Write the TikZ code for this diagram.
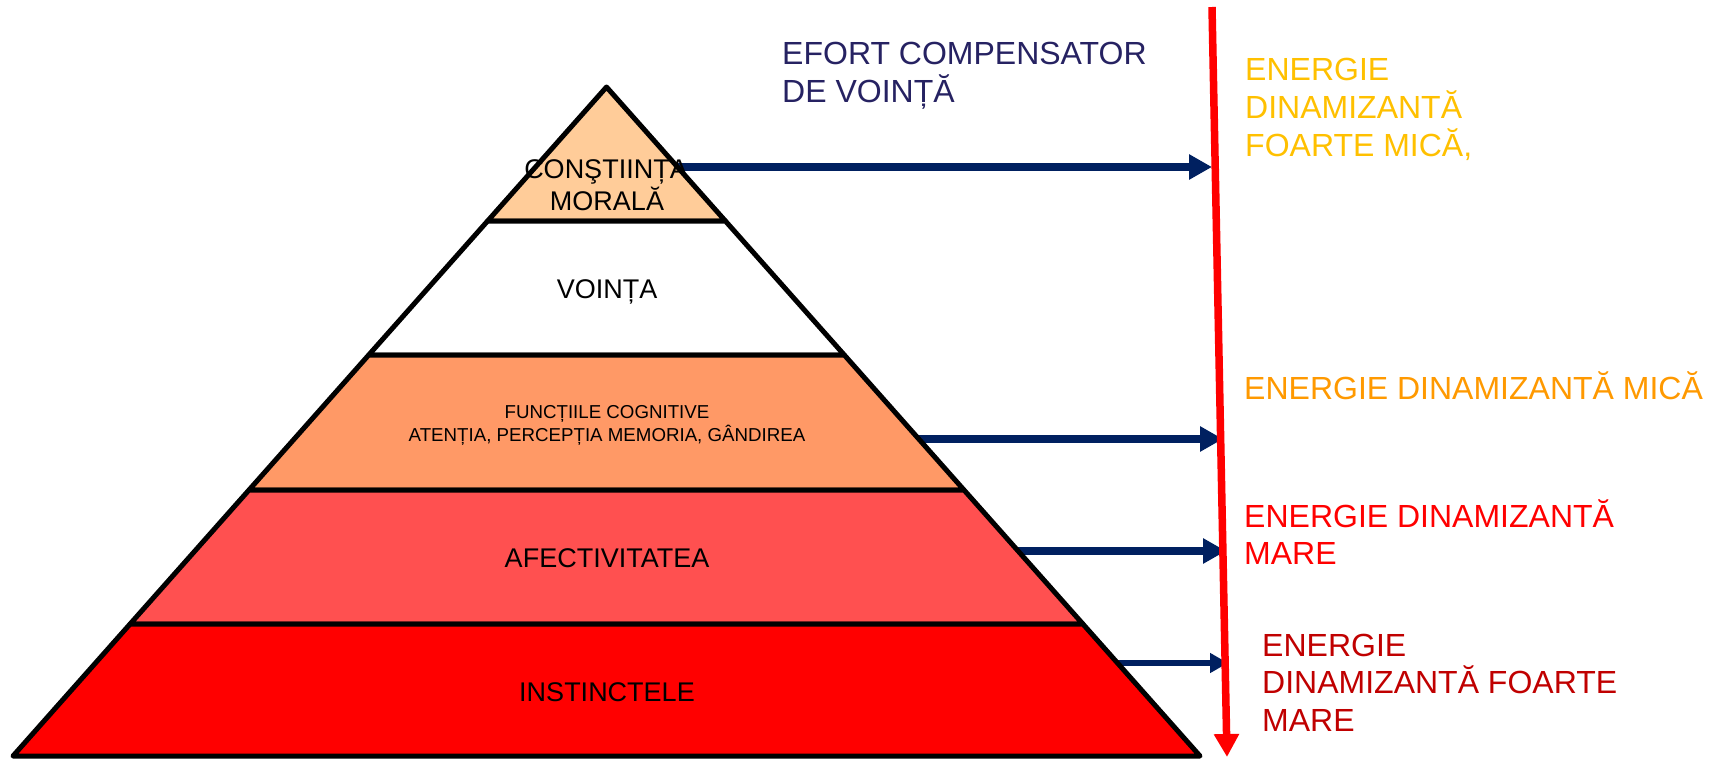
\documentclass[tikz,border=0pt]{standalone}
\usepackage{fontspec}
\setmainfont{Liberation Sans}
\usetikzlibrary{arrows.meta}
\definecolor{peach}{HTML}{FFCC99}
\definecolor{cogn}{HTML}{FF9966}
\definecolor{affect}{HTML}{FF5050}
\definecolor{instinct}{HTML}{FF0000}
\definecolor{navy}{HTML}{002060}
\definecolor{efort}{HTML}{262262}
\definecolor{yell}{HTML}{FFC000}
\definecolor{orng}{HTML}{FF9900}
\definecolor{redtxt}{HTML}{FF0000}
\definecolor{darkred}{HTML}{C00000}
\begin{document}
\begin{tikzpicture}[x=1pt,y=-1pt,
  tier/.style={draw=black,line width=5pt,line join=round},
  lbl/.style={inner sep=0pt,anchor=base,font=\fontsize{27}{31}\selectfont},
  small/.style={inner sep=0pt,anchor=base,font=\fontsize{18.7}{22}\selectfont},
  side/.style={inner sep=0pt,anchor=base west,font=\fontsize{32}{37}\selectfont},
  bigarrow/.style={draw=navy,line width=8.5pt,-{Triangle[length=23pt,width=24pt]}},
  thinarrow/.style={draw=navy,line width=5.5pt,-{Triangle[length=18pt,width=19pt]}},
  redaxis/.style={draw=red,line width=7.5pt,-{Triangle[length=23pt,width=24pt]}}]
\useasboundingbox (0,0) rectangle (1727,758);

% coordinates
\coordinate (rtop) at (1212,7);
\coordinate (rbot) at (1227,757);
\coordinate (a1s) at (675,167);   \coordinate (a1e) at (1212,167);
\coordinate (a2s) at (917,439);   \coordinate (a2e) at (1223,439);
\coordinate (a3s) at (1016,551);  \coordinate (a3e) at (1226,551);
\coordinate (a4s) at (1115,663);  \coordinate (a4e) at (1228,663);

% arrows
\draw[bigarrow] (a1s) -- (a1e);
\draw[bigarrow] (a2s) -- (a2e);
\draw[bigarrow] (a3s) -- (a3e);
\draw[thinarrow] (a4s) -- (a4e);

% pyramid tiers
\filldraw[tier,fill=peach] (606.5,87) -- (725.4,221) -- (487.6,221) -- cycle;
\filldraw[tier,fill=white] (487.6,221) -- (725.4,221) -- (844.3,355) -- (368.7,355) -- cycle;
\filldraw[tier,fill=cogn] (368.7,355) -- (844.3,355) -- (964.0,490) -- (249.0,490) -- cycle;
\filldraw[tier,fill=affect] (249.0,490) -- (964.0,490) -- (1082.9,624) -- (130.1,624) -- cycle;
\filldraw[tier,fill=instinct] (130.1,624) -- (1082.9,624) -- (1200,756) -- (13,756) -- cycle;

% red axis
\draw[redaxis] (rtop) -- (rbot);

% pyramid labels
\node[lbl] (c1) at (606,178) {CONŞTIINȚA};
\node[lbl] (c2) at (607,210) {MORALĂ};
\node[lbl] (v) at (607,298) {VOINȚA};
\node[small] (f1) at (607,418) {FUNCȚIILE COGNITIVE};
\node[small] (f2) at (607,441) {ATENȚIA, PERCEPȚIA MEMORIA, GÂNDIREA};
\node[lbl] (af) at (607,567) {AFECTIVITATEA};
\node[lbl] (in) at (607,701) {INSTINCTELE};

% side texts
\node[side,text=efort] (e1) at (782,64) {EFORT COMPENSATOR};
\node[side,text=efort] (e2) at (782,102) {DE VOINȚĂ};
\node[side,text=yell] (y1) at (1245,80) {ENERGIE};
\node[side,text=yell] (y2) at (1245,118) {DINAMIZANTĂ};
\node[side,text=yell] (y3) at (1245,156) {FOARTE MICĂ,};
\node[side,text=orng] (o1) at (1244,399) {ENERGIE DINAMIZANTĂ MICĂ};
\node[side,text=redtxt] (r1) at (1244,527) {ENERGIE DINAMIZANTĂ};
\node[side,text=redtxt] (r2) at (1244,564) {MARE};
\node[side,text=darkred] (d1) at (1262,656) {ENERGIE};
\node[side,text=darkred] (d2) at (1262,693) {DINAMIZANTĂ FOARTE};
\node[side,text=darkred] (d3) at (1262,731) {MARE};
\end{tikzpicture}
\end{document}
